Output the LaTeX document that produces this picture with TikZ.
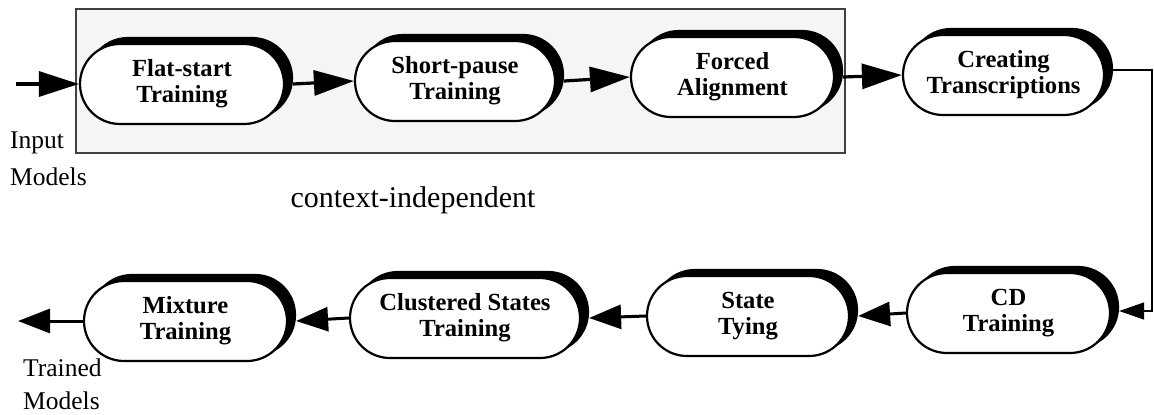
\documentclass[tikz,border=0pt]{standalone}
\usepackage{fontspec}
\setmainfont{Liberation Serif}
\usetikzlibrary{arrows.meta,shapes.misc,shadows}
\definecolor{panel}{RGB}{245,245,245}
\begin{document}
\begin{tikzpicture}[x=1pt,y=-1pt,
  stage/.style={rounded rectangle, draw=black, line width=2.2pt, fill=white,
    inner sep=0pt, minimum height=80pt, align=center,
    font=\bfseries\fontsize{24.6}{26}\selectfont,
    general shadow={fill=black, draw=black, line width=2.2pt,
      shadow xshift=8pt, shadow yshift=6pt}},
  flow/.style={line width=3.2pt, -{Triangle[length=40pt,width=25pt]}},
  backflow/.style={line width=3pt, -{Triangle[length=32pt,width=24pt]}},
  feed/.style={line width=1.2pt, -{Triangle[length=25pt,width=17pt]}},
  label/.style={font=\fontsize{25.5}{30}\selectfont, inner sep=0pt, anchor=base west}]
\useasboundingbox (0,0) rectangle (1154,415);

% context-independent group
\path[fill=panel, draw=black!75, line width=1.5pt] (76,9) rectangle (845,153);
\node[font=\fontsize{30}{36}\selectfont, anchor=base, inner sep=0pt] (cilab) at (413,207) {context-independent};

% top row
\node[stage, minimum width=204pt] (fs) at (182,84) {Flat-start\\Training};
\node[stage, minimum width=200pt] (sp) at (455,81) {Short-pause\\Training};
\node[stage, minimum width=203pt] (fa) at (732.5,77) {Forced\\Alignment};
\node[stage, minimum width=201pt] (ct) at (1003.5,75) {Creating\\Transcriptions};

% bottom row
\node[stage, minimum width=203pt] (cd) at (1008.5,313) {CD\\Training};
\node[stage, minimum width=202pt] (st) at (748,316) {State\\Tying};
\node[stage, minimum width=230pt] (cs) at (465,318) {Clustered States\\Training};
\node[stage, minimum width=203pt] (mt) at (185.5,321) {Mixture\\Training};

% end labels
\node[label] (in1) at (10,148) {Input};
\node[label] (in2) at (10,185) {Models};
\node[label] (out1) at (23,376) {Trained};
\node[label] (out2) at (23,409) {Models};

% connectors
\coordinate (inp) at (16,84);
\coordinate (outp) at (18,321);
\coordinate (rail) at (1152,190);

\draw[flow] (inp) -- (fs.west);
\draw[flow] ([xshift=8pt]fs.east) -- (sp.west);
\draw[flow] ([xshift=8pt]sp.east) -- (fa.west);
\draw[flow] ([xshift=8pt]fa.east) -- (ct.west);
\draw[feed] ([xshift=8pt,yshift=5pt]ct.east) -| (rail) |- ([xshift=8pt,yshift=2pt]cd.east);
\draw[backflow] (cd.west) -- ([xshift=8pt]st.east);
\draw[backflow] (st.west) -- ([xshift=8pt]cs.east);
\draw[backflow] (cs.west) -- ([xshift=8pt]mt.east);
\draw[backflow] (mt.west) -- (outp);
\end{tikzpicture}
\end{document}
